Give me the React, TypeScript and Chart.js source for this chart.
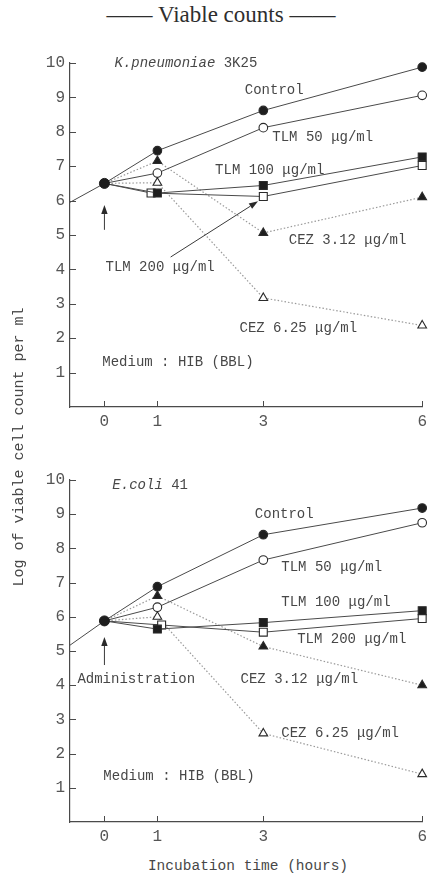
import React, { useEffect, useRef } from 'react';
import { Chart, registerables } from 'chart.js';
Chart.register(...registerables);

// ---------- data ----------
const hours = [0, 1, 3, 6];
const entryHours = [-0.65, 0];
const yTicks = [1, 2, 3, 4, 5, 6, 7, 8, 9, 10];
const xTicks = [0, 1, 3, 6];

// K. pneumoniae 3K25
const kpEntry = [5.95, 6.5];
const kpControl = [6.5, 7.45, 8.62, 9.88];
const kpTlm50 = [6.5, 6.8, 8.12, 9.06];
const kpTlm100 = [6.5, 6.22, 6.44, 7.27];
const kpTlm200Hours = [0, 0.88, 3, 6];
const kpTlm200 = [6.5, 6.22, 6.12, 7.02];
const kpCez312 = [6.5, 7.15, 5.06, 6.1];
const kpCez625 = [6.5, 6.52, 3.17, 2.37];

// E. coli 41
const ecEntry = [5.17, 5.88];
const ecControl = [5.88, 6.88, 8.4, 9.18];
const ecTlm50 = [5.88, 6.28, 7.66, 8.75];
const ecTlm100 = [5.88, 5.64, 5.83, 6.18];
const ecTlm200Hours = [0, 1.08, 3, 6];
const ecTlm200 = [5.88, 5.76, 5.55, 5.95];
const ecCez312 = [5.88, 6.61, 5.13, 4.0];
const ecCez625 = [5.88, 6.0, 2.59, 1.4];

const MONO = '"Liberation Mono", "DejaVu Sans Mono", monospace';
const INK = '#3a3a3a';
const TEXT = '#474747';

type Note = { x: number; y: number; text: string; italic?: string };
type Arrow = { x0: number; y0: number; x1: number; y1: number };

const kpNotes: Note[] = [
  { x: 0.19, y: 10.0, italic: 'K.pneumoniae', text: ' 3K25' },
  { x: 2.65, y: 9.2, text: 'Control' },
  { x: 3.17, y: 7.85, text: 'TLM 50 μg/ml' },
  { x: 2.09, y: 6.89, text: 'TLM 100 μg/ml' },
  { x: 3.48, y: 4.85, text: 'CEZ 3.12 μg/ml' },
  { x: 0.02, y: 4.07, text: 'TLM 200 μg/ml' },
  { x: 2.55, y: 2.3, text: 'CEZ 6.25 μg/ml' },
  { x: -0.04, y: 1.31, text: 'Medium : HIB (BBL)' },
];
const kpArrows: Arrow[] = [
  { x0: 0, y0: 5.15, x1: 0, y1: 5.87 },
  { x0: 1.25, y0: 4.36, x1: 2.9, y1: 5.98 },
];

const ecNotes: Note[] = [
  { x: 0.15, y: 9.85, italic: 'E.coli', text: ' 41' },
  { x: 2.84, y: 9.0, text: 'Control' },
  { x: 3.34, y: 7.46, text: 'TLM 50 μg/ml' },
  { x: 3.34, y: 6.43, text: 'TLM 100 μg/ml' },
  { x: 3.64, y: 5.35, text: 'TLM 200 μg/ml' },
  { x: -0.51, y: 4.18, text: 'Administration' },
  { x: 2.57, y: 4.18, text: 'CEZ 3.12 μg/ml' },
  { x: 3.34, y: 2.6, text: 'CEZ 6.25 μg/ml' },
  { x: -0.02, y: 1.35, text: 'Medium : HIB (BBL)' },
];
const ecArrows: Arrow[] = [{ x0: 0, y0: 4.59, x1: 0, y1: 5.41 }];

function pts(xs: number[], ys: number[]) {
  return ys.map((y, i) => ({ x: xs[i], y }));
}

function series(
  xs: number[],
  ys: number[],
  style: string,
  filled: boolean,
  dotted: boolean,
  r: number
) {
  return {
    data: pts(xs, ys),
    borderColor: dotted ? '#9a9a9a' : '#4a4a4a',
    borderWidth: dotted ? 1.2 : 1,
    borderDash: dotted ? [1.5, 2] : [],
    pointStyle: style,
    pointRadius: ys.map((_, i) => (i === 0 ? 0 : r)),
    pointBackgroundColor: filled ? '#1e1e1e' : '#ffffff',
    pointBorderColor: '#2a2a2a',
    pointBorderWidth: 1.1,
    tension: 0,
    fill: false,
    clip: false,
  };
}

function buildDatasets(
  entry: number[],
  control: number[],
  t50: number[],
  t100: number[],
  t200x: number[],
  t200: number[],
  c312: number[],
  c625: number[]
) {
  return [
    {
      data: pts(entryHours, entry),
      borderColor: '#4a4a4a',
      borderWidth: 1,
      pointStyle: 'circle',
      pointRadius: [0, 5],
      pointBackgroundColor: '#1e1e1e',
      pointBorderColor: '#1e1e1e',
      tension: 0,
      clip: false,
    },
    series(hours, control, 'circle', true, false, 4.3),
    series(hours, t50, 'circle', false, false, 4.3),
    series(hours, t100, 'rect', true, false, 5.6),
    series(t200x, t200, 'rect', false, false, 5.6),
    series(hours, c312, 'triangle', true, true, 5),
    series(hours, c625, 'triangle', false, true, 5),
  ];
}

function makeAnnotPlugin(notes: Note[], arrows: Arrow[]) {
  return {
    id: 'annot',
    beforeDatasetsDraw(chart: any) {
      const { ctx, chartArea, scales } = chart;
      const xs = scales.x;
      const ys = scales.y;
      ctx.save();
      ctx.strokeStyle = '#4a4a4a';
      ctx.lineWidth = 1;
      ctx.beginPath();
      for (const v of yTicks) {
        const py = Math.round(ys.getPixelForValue(v)) + 0.5;
        ctx.moveTo(chartArea.left, py);
        ctx.lineTo(chartArea.left + 6, py);
      }
      for (const v of xTicks) {
        const px = Math.round(xs.getPixelForValue(v)) + 0.5;
        ctx.moveTo(px, chartArea.bottom);
        ctx.lineTo(px, chartArea.bottom - 6);
      }
      ctx.stroke();
      ctx.restore();
    },
    afterDatasetsDraw(chart: any) {
      const { ctx, scales } = chart;
      const xs = scales.x;
      const ys = scales.y;
      ctx.save();
      ctx.fillStyle = TEXT;
      ctx.textBaseline = 'middle';
      ctx.textAlign = 'left';
      for (const n of notes) {
        let px = xs.getPixelForValue(n.x);
        const py = ys.getPixelForValue(n.y);
        if (n.italic) {
          ctx.font = `italic 14px ${MONO}`;
          ctx.fillText(n.italic, px, py);
          px += ctx.measureText(n.italic).width;
        }
        ctx.font = `14px ${MONO}`;
        ctx.fillText(n.text, px, py);
      }
      ctx.strokeStyle = '#3a3a3a';
      ctx.fillStyle = '#2a2a2a';
      ctx.lineWidth = 1;
      for (const a of arrows) {
        const x0 = xs.getPixelForValue(a.x0);
        const y0 = ys.getPixelForValue(a.y0);
        const x1 = xs.getPixelForValue(a.x1);
        const y1 = ys.getPixelForValue(a.y1);
        const ang = Math.atan2(y1 - y0, x1 - x0);
        const hl = 9;
        const hw = 3.2;
        const bx = x1 - hl * Math.cos(ang);
        const by = y1 - hl * Math.sin(ang);
        ctx.beginPath();
        ctx.moveTo(x0, y0);
        ctx.lineTo(bx, by);
        ctx.stroke();
        ctx.beginPath();
        ctx.moveTo(x1, y1);
        ctx.lineTo(bx + hw * Math.sin(ang), by - hw * Math.cos(ang));
        ctx.lineTo(bx - hw * Math.sin(ang), by + hw * Math.cos(ang));
        ctx.closePath();
        ctx.fill();
      }
      ctx.restore();
    },
  };
}

function makeConfig(datasets: any[], padTop: number, xHeight: number, notes: Note[], arrows: Arrow[]) {
  return {
    type: 'line' as const,
    data: { datasets },
    plugins: [makeAnnotPlugin(notes, arrows)],
    options: {
      animation: false as const,
      responsive: false,
      maintainAspectRatio: false,
      events: [],
      layout: { padding: { top: padTop, right: 5, left: 0, bottom: 0 } },
      plugins: { legend: { display: false }, tooltip: { enabled: false }, title: { display: false } },
      scales: {
        x: {
          type: 'linear' as const,
          min: -0.65,
          max: 6,
          grid: { display: false, drawTicks: false },
          border: { display: true, color: '#4a4a4a', width: 1.2 },
          afterBuildTicks: (axis: any) => {
            axis.ticks = xTicks.map((v) => ({ value: v }));
          },
          afterFit: (s: any) => {
            s.height = xHeight;
          },
          ticks: {
            autoSkip: false,
            maxRotation: 0,
            padding: 5,
            color: '#555',
            font: { family: MONO, size: 16 },
          },
        },
        y: {
          type: 'linear' as const,
          min: 0,
          max: 10,
          grid: { display: false, drawTicks: false },
          border: { display: true, color: '#4a4a4a', width: 1.2 },
          afterBuildTicks: (axis: any) => {
            axis.ticks = yTicks.map((v) => ({ value: v }));
          },
          afterFit: (s: any) => {
            s.width = 70;
          },
          ticks: {
            padding: 5,
            color: '#555',
            font: { family: MONO, size: 16 },
          },
        },
      },
    },
  };
}

export default function App() {
  const topRef = useRef<HTMLCanvasElement>(null);
  const botRef = useRef<HTMLCanvasElement>(null);

  useEffect(() => {
    const c1 = new Chart(
      topRef.current as HTMLCanvasElement,
      makeConfig(
        buildDatasets(kpEntry, kpControl, kpTlm50, kpTlm100, kpTlm200Hours, kpTlm200, kpCez312, kpCez625),
        63,
        33,
        kpNotes,
        kpArrows
      ) as any
    );
    const c2 = new Chart(
      botRef.current as HTMLCanvasElement,
      makeConfig(
        buildDatasets(ecEntry, ecControl, ecTlm50, ecTlm100, ecTlm200Hours, ecTlm200, ecCez312, ecCez625),
        40,
        33,
        ecNotes,
        ecArrows
      ) as any
    );
    return () => {
      c1.destroy();
      c2.destroy();
    };
  }, []);

  return (
    <div
      style={{
        position: 'absolute',
        left: 0,
        top: 0,
        width: 432,
        height: 875,
        background: '#fff',
        overflow: 'hidden',
      }}
    >
      <div
        style={{
          position: 'absolute',
          left: 0,
          width: 442,
          top: 1,
          textAlign: 'center',
          fontFamily: '"Liberation Serif", "DejaVu Serif", serif',
          fontSize: 23,
          lineHeight: '28px',
          color: '#2e2e2e',
          whiteSpace: 'pre',
        }}
      >
        —— Viable counts ——
      </div>
      <canvas
        ref={topRef}
        width={432}
        height={440}
        style={{ position: 'absolute', left: 0, top: 0, width: 432, height: 440 }}
      />
      <canvas
        ref={botRef}
        width={432}
        height={415}
        style={{ position: 'absolute', left: 0, top: 440, width: 432, height: 415 }}
      />
      <div
        style={{
          position: 'absolute',
          left: 20 - 160,
          top: 447 - 10,
          width: 320,
          height: 20,
          lineHeight: '20px',
          textAlign: 'center',
          transform: 'rotate(-90deg)',
          fontFamily: MONO,
          fontSize: 15,
          color: TEXT,
          whiteSpace: 'pre',
        }}
      >
        Log of viable cell count per ml
      </div>
      <div
        style={{
          position: 'absolute',
          left: 248 - 160,
          top: 866 - 10,
          width: 320,
          height: 20,
          lineHeight: '20px',
          textAlign: 'center',
          fontFamily: MONO,
          fontSize: 14.5,
          color: TEXT,
          whiteSpace: 'pre',
        }}
      >
        Incubation time (hours)
      </div>
    </div>
  );
}
